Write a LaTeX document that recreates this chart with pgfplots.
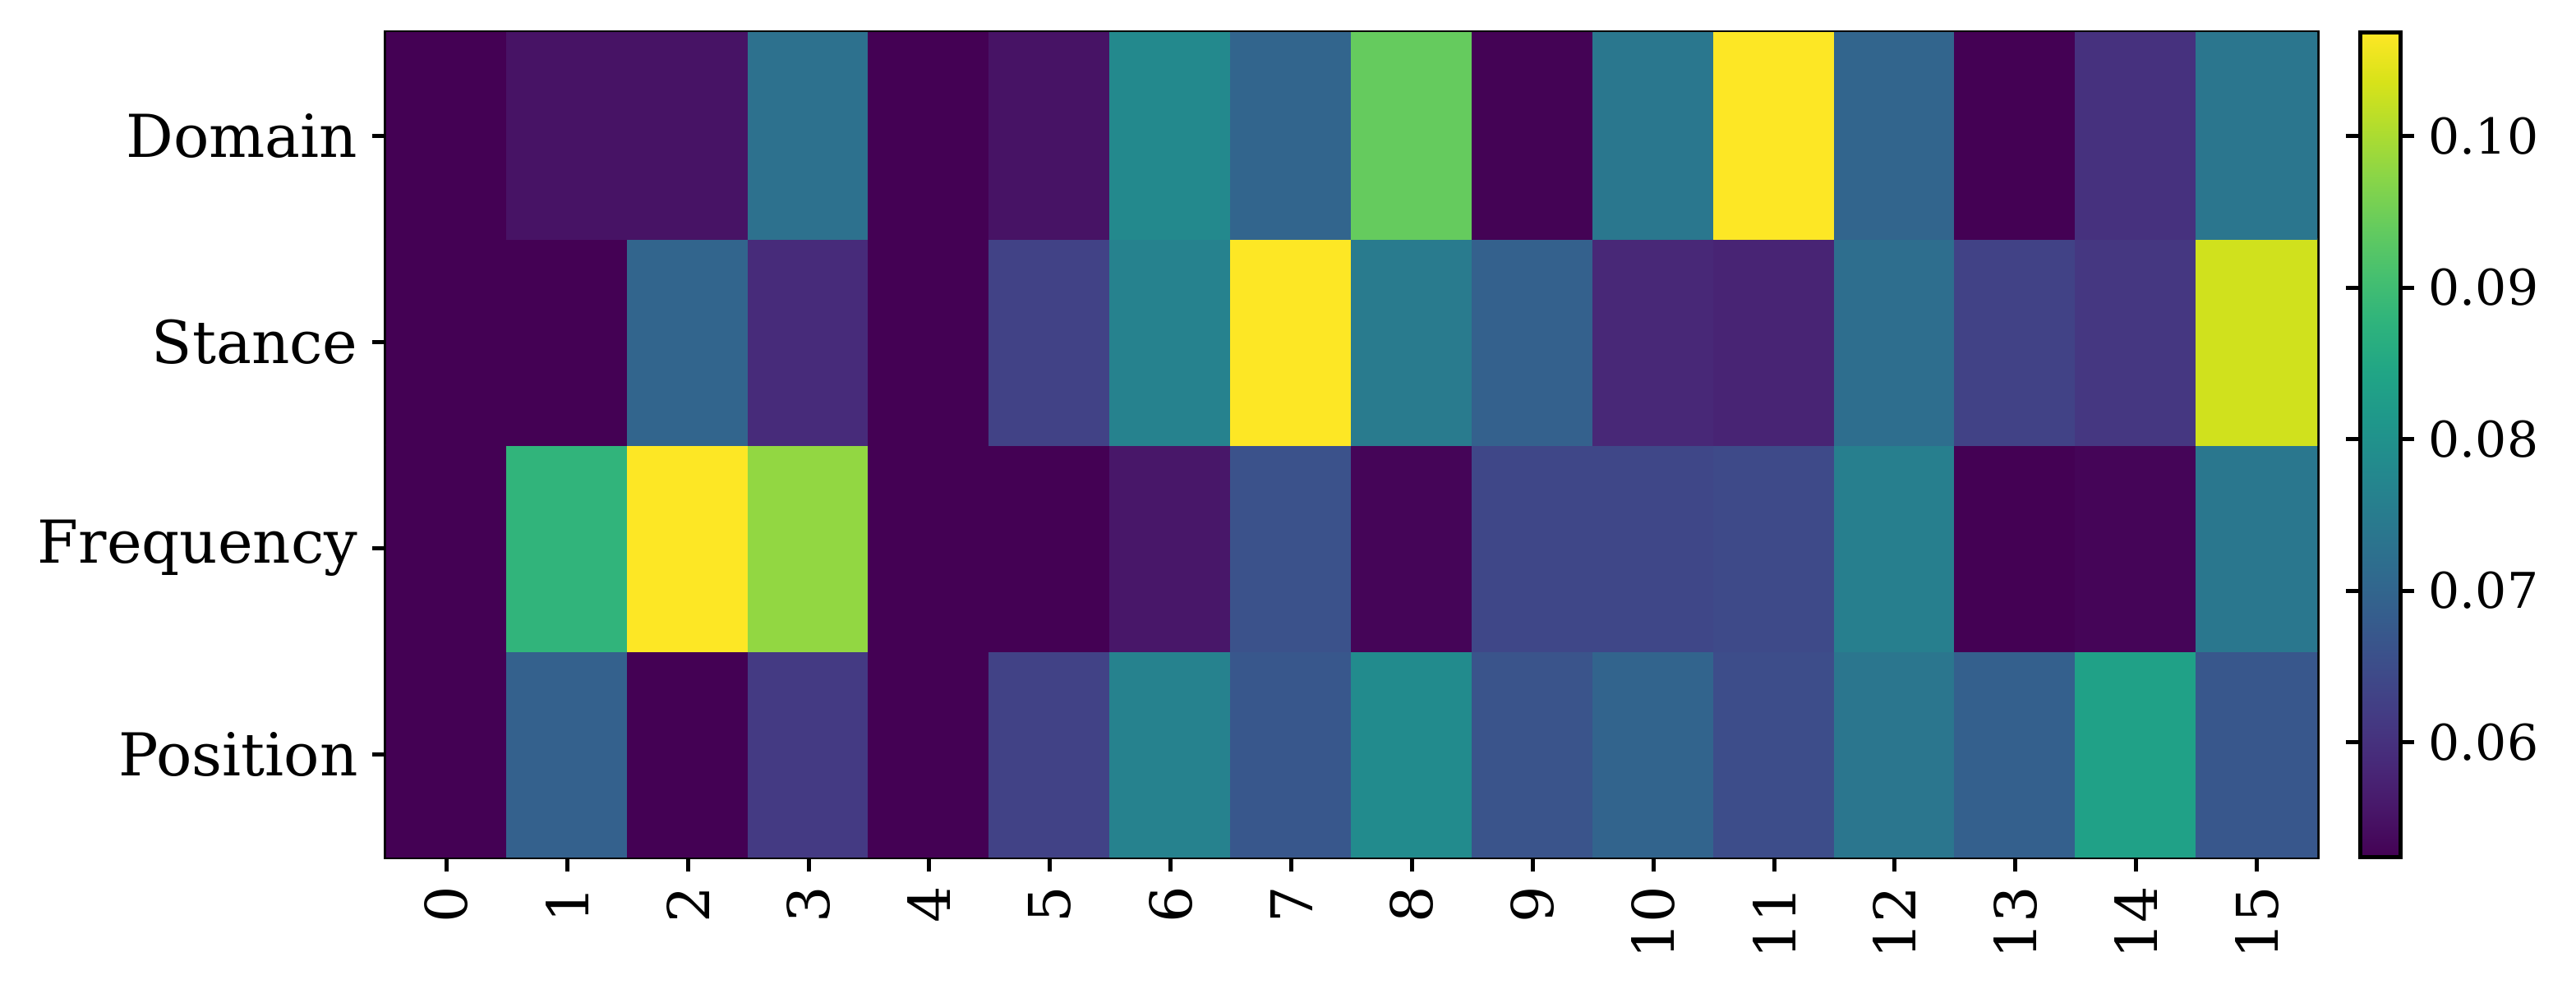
\documentclass[border=0pt]{standalone}
\usepackage{fontspec}
\setmainfont{DejaVu Serif}
\usepackage{pgfplots}
\pgfplotsset{compat=1.18}
\begin{document}
\begin{tikzpicture}
\path[use as bounding box] (-94pt,-34.2pt) rectangle (533pt,208.8pt);
\begin{axis}[
  at={(0,0)}, anchor=south west,
  scale only axis, width=470pt, height=200.8pt,
  xmin=-0.5, xmax=15.5, ymin=-0.5, ymax=3.5,
  xtick={0,...,15}, ytick={0,1,2,3},
  yticklabels={Position,Frequency,Stance,Domain},
  tick align=outside, tick pos=left,
  major tick length=3.4pt,
  every tick/.style={line width=1pt, black},
  axis line style={line width=1pt},
  xticklabel style={font=\fontsize{14}{16}\selectfont, rotate=90, anchor=east},
  yticklabel style={font=\fontsize{14.4}{16}\selectfont},
  /pgf/number format/assume math mode=true,
  colormap/viridis,
  point meta min=0.0524, point meta max=0.1068,
  colorbar,
  colorbar shift/.style={xshift=10.4pt},
  colorbar style={
    at={(parent axis.north east)}, anchor=north west,
    scale only axis, width=9.8pt, height=200.8pt,
    ytick={0.06,0.07,0.08,0.09,0.10},
    scaled y ticks=false,
    yticklabel style={font=\fontsize{12}{14}\selectfont,
      /pgf/number format/.cd, fixed, fixed zerofill, precision=2, assume math mode=true},
    tick align=outside, major tick length=3.4pt,
    every tick/.style={line width=1pt, black},
    axis line style={line width=1pt},
  },
]
\addplot[matrix plot*, mesh/cols=16, point meta=explicit] table[x=x, y=y, meta=c] {
x y c
0 0 0.0524
1 0 0.0690
2 0 0.0524
3 0 0.0616
4 0 0.0524
5 0 0.0630
6 0 0.0764
7 0 0.0670
8 0 0.0785
9 0 0.0665
10 0 0.0698
11 0 0.0650
12 0 0.0736
13 0 0.0688
14 0 0.0835
15 0 0.0670
0 1 0.0524
1 1 0.0880
2 1 0.1068
3 1 0.0980
4 1 0.0524
5 1 0.0524
6 1 0.0556
7 1 0.0660
8 1 0.0530
9 1 0.0640
10 1 0.0640
11 1 0.0645
12 1 0.0758
13 1 0.0524
14 1 0.0530
15 1 0.0740
0 2 0.0524
1 2 0.0524
2 2 0.0700
3 2 0.0590
4 2 0.0524
5 2 0.0630
6 2 0.0764
7 2 0.1068
8 2 0.0747
9 2 0.0690
10 2 0.0584
11 2 0.0578
12 2 0.0720
13 2 0.0630
14 2 0.0610
15 2 0.1030
0 3 0.0524
1 3 0.0550
2 3 0.0550
3 3 0.0725
4 3 0.0524
5 3 0.0550
6 3 0.0780
7 3 0.0700
8 3 0.0940
9 3 0.0526
10 3 0.0740
11 3 0.1068
12 3 0.0700
13 3 0.0524
14 3 0.0600
15 3 0.0736
};
\end{axis}
\end{tikzpicture}
\end{document}
